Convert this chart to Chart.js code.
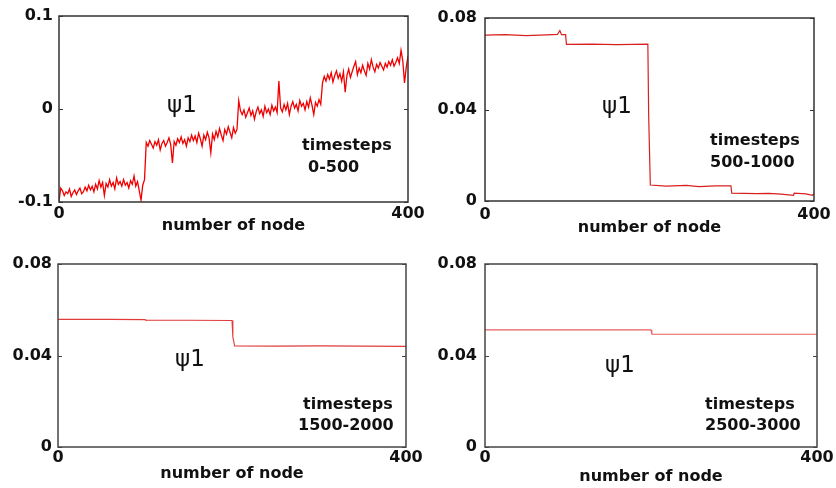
<!DOCTYPE html>
<html>
<head>
<meta charset="utf-8">
<script src="https://cdn.jsdelivr.net/npm/chart.js@4.4.1/dist/chart.umd.min.js"></script>
<style>
    body { margin: 0; background: #fff; }
    #wrap { position: relative; width: 836px; height: 488px; overflow: hidden; }
    canvas { position: absolute; }
</style>
</head>
<body>
<div id="wrap">
    <canvas id="c1" width="432" height="240" style="left:0px;top:0px"></canvas>
    <canvas id="c2" width="418" height="240" style="left:418px;top:0px"></canvas>
    <canvas id="c3" width="432" height="248" style="left:0px;top:240px"></canvas>
    <canvas id="c4" width="418" height="248" style="left:418px;top:240px"></canvas>
</div>

<script type="text/JavaScript">

//------------------------------------------------------------------------------------------
// Data (read off the picture)
//------------------------------------------------------------------------------------------

var xTicks = [0, 400];
var xLabels = ["0", "400"];

// timesteps 0-500
var nodes1 = [0,2,4,6,8,10,12,14,16,18,20,22,24,26,28,30,32,34,36,38,40,42,44,46,48,
              50,52,54,56,58,60,62,64,66,68,70,72,74,76,78,80,82,84,86,88,90,92,94,96,98,
              100,102,104,106,108,110,112,114,116,118,120,122,124,126,128,130,132,134,136,138,140,142,144,146,148,
              150,152,154,156,158,160,162,164,166,168,170,172,174,176,178,180,182,184,186,188,190,192,194,196,198,200,202,204,
              206,208,210,212,214,216,218,220,222,224,226,228,230,232,234,236,238,240,242,244,246,248,
              250,252,254,256,258,260,262,264,266,268,270,272,274,276,278,280,282,284,286,288,290,292,294,296,298,300,
              302,304,306,308,310,312,314,316,318,320,322,324,326,328,330,332,334,336,338,340,342,344,346,348,
              350,352,354,356,358,360,362,364,366,368,370,372,374,376,378,380,382,384,386,388,390,392,394,396,398,400];
var psi1_0_500 = [-0.099,-0.085,-0.088,-0.093,-0.089,-0.091,-0.086,-0.094,-0.090,-0.087,-0.092,-0.088,-0.085,-0.091,-0.089,
                  -0.084,-0.088,-0.082,-0.087,-0.083,-0.089,-0.081,-0.086,-0.077,-0.084,-0.079,-0.093,-0.080,-0.084,-0.076,
                  -0.083,-0.079,-0.086,-0.074,-0.081,-0.078,-0.083,-0.076,-0.082,-0.079,-0.085,-0.077,-0.081,-0.072,-0.083,
                  -0.078,-0.088,-0.098,-0.082,-0.076,
                  -0.036,-0.040,-0.034,-0.038,-0.042,-0.035,-0.039,-0.033,-0.044,-0.037,-0.034,-0.040,-0.036,-0.031,-0.038,
                  -0.058,-0.035,-0.039,-0.032,-0.036,-0.030,-0.037,-0.033,-0.040,-0.031,-0.035,-0.028,-0.034,-0.029,-0.036,
                  -0.026,-0.032,-0.040,-0.028,-0.033,-0.025,-0.031,-0.047,-0.027,-0.033,-0.024,-0.030,-0.021,-0.028,-0.034,
                  -0.022,-0.027,-0.019,-0.025,-0.031,-0.020,-0.026,-0.022,
                  0.009,-0.002,-0.006,-0.001,-0.009,-0.004,0.001,-0.007,-0.002,-0.011,-0.003,0.002,-0.005,-0.001,-0.008,
                  0.003,-0.004,0.000,-0.006,0.004,-0.002,0.002,-0.004,0.030,0.001,-0.003,0.005,-0.001,0.006,-0.006,
                  0.003,0.008,0.001,0.005,-0.002,0.009,0.003,0.006,-0.001,0.008,0.002,0.012,0.004,-0.006,0.007,
                  0.003,0.010,0.005,
                  0.028,0.035,0.030,0.037,0.032,0.039,0.029,0.036,0.041,0.033,0.038,0.030,0.040,0.018,0.036,
                  0.043,0.034,0.040,0.046,0.051,0.037,0.044,0.039,0.047,0.041,0.036,0.049,0.043,0.053,0.045,
                  0.040,0.048,0.044,0.050,0.046,0.042,0.049,0.045,0.051,0.047,0.053,0.046,0.050,0.055,0.049,
                  0.063,0.052,0.028,0.045,0.057];
var yTicks1 = [-0.1, 0, 0.1];
var yLabels1 = ["-0.1", "0", "0.1"];

// timesteps 500-1000
var nodes2 = [0,25,50,75,88,91,93,98,99,130,160,198,199,201,220,245,260,280,299,300,330,345,360,375,376,390,398,400];
var psi1_500_1000 = [0.0725,0.0727,0.0723,0.0726,0.0728,0.0745,0.0727,0.0727,0.0685,0.0686,0.0684,0.0686,0.0370,0.0070,
                     0.0065,0.0068,0.0063,0.0066,0.0066,0.0034,0.0032,0.0033,0.0030,0.0025,0.0034,0.0031,0.0025,0.0032];

// timesteps 1500-2000
var nodes3 = [0,60,100,101,150,200,201,203,250,300,350,400];
var psi1_1500_2000 = [0.0558,0.0558,0.0557,0.0554,0.0554,0.0553,0.0480,0.0442,0.0441,0.0442,0.0441,0.0440];

// timesteps 2500-3000
var nodes4 = [0,200,201,400];
var psi1_2500_3000 = [0.0512,0.0512,0.0493,0.0493];

var yTicks2 = [0, 0.04, 0.08];
var yLabels2 = ["0", "0.04", "0.08"];

//------------------------------------------------------------------------------------------
// Drawing
//------------------------------------------------------------------------------------------

var TICK_FONT = { family: "DejaVu Sans", size: 16, weight: "bold" };

// frame around the plot, small inward tick marks and the text labels
var framePlugin = {
    id: "frame",
    afterDraw: function(chart) {
        var o = chart.options.plugins.frame;
        var a = chart.chartArea;
        var ctx = chart.ctx;
        ctx.save();
        ctx.strokeStyle = o.color;
        ctx.lineWidth = 1.5;
        ctx.strokeRect(a.left, a.top, a.right - a.left, a.bottom - a.top);
        var ys = chart.scales.y;
        ctx.lineWidth = 1;
        ys.ticks.forEach(function(t) {
            var py = Math.round(ys.getPixelForValue(t.value)) + 0.5;
            ctx.beginPath();
            ctx.moveTo(a.left, py); ctx.lineTo(a.left + 4, py);
            ctx.moveTo(a.right, py); ctx.lineTo(a.right - 4, py);
            ctx.stroke();
        });
        ctx.fillStyle = "#111";
        ctx.textAlign = "left";
        ctx.textBaseline = "alphabetic";
        ctx.font = "23px 'DejaVu Sans'";
        ctx.fillText("\u03c81", a.left + o.psi[0], a.top + o.psi[1]);
        ctx.textBaseline = "middle";
        ctx.font = "bold 16px 'DejaVu Sans'";
        ctx.fillText("timesteps", a.left + o.ts[0], a.top + o.ts[1]);
        ctx.fillText(o.range, a.left + o.rg[0], a.top + o.rg[1]);
        ctx.restore();
    }
};

function makePanel(id, nodes, values, yTicks, yLabels, lay) {
    var pts = nodes.map(function(n, i) { return { x: n, y: values[i] }; });
    return new Chart(document.getElementById(id).getContext("2d"), {
        type: "line",
        data: {
            datasets: [{
                data: pts,
                borderColor: lay.line,
                borderWidth: lay.lw,
                pointRadius: 0,
                tension: 0,
                fill: false
            }]
        },
        options: {
            responsive: false,
            animation: false,
            layout: { padding: { left: 0, top: lay.top, right: lay.right, bottom: 0 } },
            plugins: {
                legend: { display: false },
                tooltip: { enabled: false },
                frame: { color: lay.frame, psi: lay.psi, ts: lay.ts, rg: lay.rg, range: lay.range }
            },
            scales: {
                x: {
                    type: "linear",
                    min: 0, max: 400,
                    grid: { display: false, drawTicks: false, tickLength: 0 },
                    border: { display: false },
                    afterBuildTicks: function(s) { s.ticks = xTicks.map(function(v) { return { value: v }; }); },
                    afterFit: function(s) { s.height = lay.xh; s.paddingLeft = 0; s.paddingRight = 0; },
                    ticks: {
                        color: "#111",
                        font: TICK_FONT,
                        padding: lay.xpad,
                        maxRotation: 0,
                        autoSkip: false,
                        callback: function(v, i) { return xLabels[i]; }
                    },
                    title: {
                        display: true,
                        text: "number of node",
                        color: "#111",
                        font: TICK_FONT,
                        padding: { top: 0, bottom: lay.tpad }
                    }
                },
                y: {
                    min: yTicks[0], max: yTicks[yTicks.length - 1],
                    grid: { display: false, drawTicks: false, tickLength: 0 },
                    border: { display: false },
                    afterBuildTicks: function(s) { s.ticks = yTicks.map(function(v) { return { value: v }; }); },
                    afterFit: function(s) { s.width = lay.yw; s.paddingTop = 0; s.paddingBottom = 0; },
                    ticks: {
                        color: "#111",
                        font: TICK_FONT,
                        padding: lay.ypad,
                        autoSkip: false,
                        callback: function(v, i) { return yLabels[i]; }
                    }
                }
            }
        },
        plugins: [framePlugin]
    });
}

makePanel("c1", nodes1, psi1_0_500, yTicks1, yLabels1, {
    top: 16, right: 24, yw: 59, xh: 38, xpad: 2, tpad: 5, ypad: 6,
    line: "#f00000", lw: 1.3, frame: "#333",
    psi: [108, 96], ts: [243, 130], rg: [249, 152], range: "0-500"
});
makePanel("c2", nodes2, psi1_500_1000, yTicks2, yLabels2, {
    top: 18, right: 22, yw: 67, xh: 39, xpad: 4, tpad: 3, ypad: 8,
    line: "#d82020", lw: 1.2, frame: "#333",
    psi: [117, 95], ts: [225, 123], rg: [225, 145], range: "500-1000"
});
makePanel("c3", nodes3, psi1_1500_2000, yTicks2, yLabels2, {
    top: 24, right: 26, yw: 58, xh: 41, xpad: 1, tpad: 5, ypad: 6,
    line: "#e03a3a", lw: 1.1, frame: "#444",
    psi: [117, 102], ts: [245, 141], rg: [240, 162], range: "1500-2000"
});
makePanel("c4", nodes4, psi1_2500_3000, yTicks2, yLabels2, {
    top: 24, right: 19, yw: 67, xh: 41, xpad: 1, tpad: 2, ypad: 8,
    line: "#e86060", lw: 1.1, frame: "#444",
    psi: [120, 108], ts: [220, 141], rg: [220, 162], range: "2500-3000"
});

</script>
</body>
</html>
